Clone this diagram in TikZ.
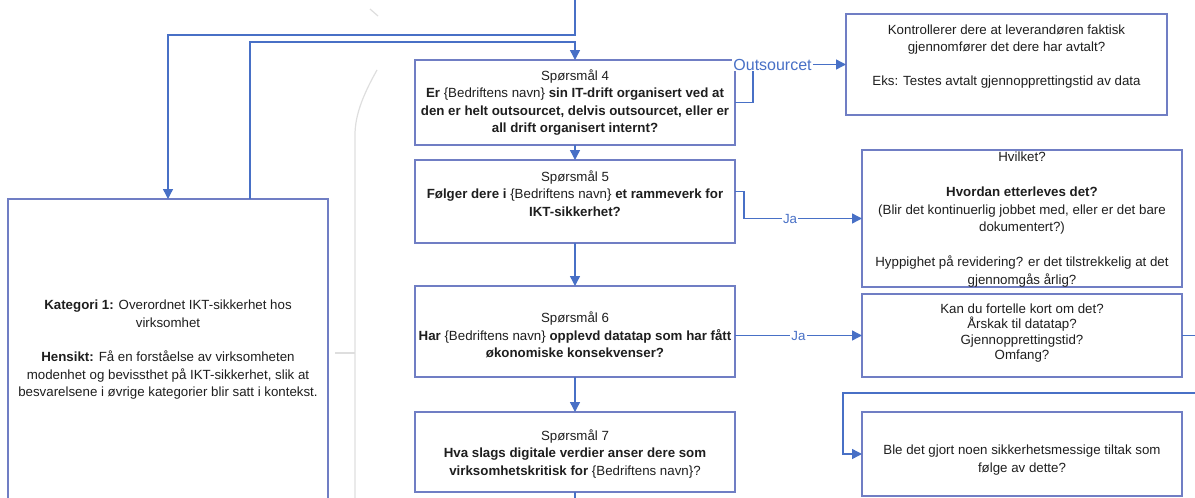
\documentclass[tikz,border=0pt]{standalone}
\usepackage{fontspec}
\setmainfont{Liberation Sans}
\usetikzlibrary{arrows.meta,calc}
\definecolor{boxline}{RGB}{112,126,196}
\definecolor{flow}{RGB}{72,112,198}
\definecolor{ink}{RGB}{30,30,30}
\definecolor{faint}{RGB}{222,222,222}
\tikzset{
  box/.style={draw=boxline, line width=1.1pt, inner sep=0pt, outer sep=0pt, minimum width=320pt},
  txt/.style={align=center, text=ink, font=\fontsize{13.3}{17.5}\selectfont, inner sep=0pt},
  conn/.style={draw=flow, line width=1.4pt},
  tip/.style={-{Triangle[length=10pt,width=10pt]}},
  biglbl/.style={fill=white, text=flow, inner sep=1pt, font=\fontsize{16}{18}\selectfont},
  lbl/.style={fill=white, text=flow, inner sep=1pt, font=\fontsize{13.3}{16}\selectfont},
  faintline/.style={draw=faint, line width=1.2pt},
}
\begin{document}
\begin{tikzpicture}[x=1pt,y=-1pt]
\useasboundingbox (0,0) rectangle (1195,498);
\clip (0,0) rectangle (1195,498);

% faint guide strokes in the background
\draw[faintline] (370,9) -- (378,16);
\draw[faintline] (377,70) .. controls (363,95) and (355,115) .. (355,135) -- (355,505);
\draw[faintline] (335,353) -- (355,353);

% boxes
\node[box, minimum height=303pt] (kat) at (168,350.5) {};
\node[box, minimum height=85pt] (q4) at (575,102.5) {};
\node[box, minimum height=83pt] (q5) at (575,201.5) {};
\node[box, minimum height=91pt] (q6) at (575,331.5) {};
\node[box, minimum height=80pt] (q7) at (575,452) {};
\node[box, minimum width=321pt, minimum height=101pt] (b1) at (1006.5,64.5) {};
\node[box, minimum height=137pt] (b2) at (1022,218.5) {};
\node[box, minimum height=83pt] (b3) at (1022,335.5) {};
\node[box, minimum height=84pt] (b4) at (1022,454) {};

% texts
\node[txt] (katt) at (168,350) {\textbf{Kategori 1:} Overordnet IKT-sikkerhet hos\\virksomhet\\[17pt]\textbf{Hensikt:} Få en forståelse av virksomheten\\modenhet og bevissthet på IKT-sikkerhet, slik at\\besvarelsene i øvrige kategorier blir satt i kontekst.};
\node[txt] (q4t) at (575,102.5) {Spørsmål 4\\\textbf{Er} \{Bedriftens navn\} \textbf{sin IT-drift organisert ved at}\\\textbf{den er helt outsourcet, delvis outsourcet, eller er}\\\textbf{all drift organisert internt?}};
\node[txt] (q5t) at (575,193.5) {Spørsmål 5\\\textbf{Følger dere i} \{Bedriftens navn\} \textbf{et rammeverk for}\\\textbf{IKT-sikkerhet?}};
\node[txt] (q6t) at (575,335) {Spørsmål 6\\\textbf{Har} \{Bedriftens navn\} \textbf{opplevd datatap som har fått}\\\textbf{økonomiske konsekvenser?}};
\node[txt] (q7t) at (575,454) {Spørsmål 7\\\textbf{Hva slags digitale verdier anser dere som}\\\textbf{virksomhetskritisk for} \{Bedriftens navn\}?};
\node[txt, font=\fontsize{13.3}{17}\selectfont] (b1t) at (1006.5,57) {Kontrollerer dere at leverandøren faktisk\\gjennomfører det dere har avtalt?\\[17pt]Eks: Testes avtalt gjennopprettingstid av data};
\node[txt] (b2t) at (1022,219.5) {Hvilket?\\[17.5pt]\textbf{Hvordan etterleves det?}\\(Blir det kontinuerlig jobbet med, eller er det bare\\dokumentert?)\\[17.5pt]Hyppighet på revidering? er det tilstrekkelig at det\\gjennomgås årlig?};
\node[txt, font=\fontsize{13.3}{15.5}\selectfont] (b3t) at (1022,333) {Kan du fortelle kort om det?\\Årskak til datatap?\\Gjennopprettingstid?\\Omfang?};
\node[txt] (b4t) at (1022,460) {Ble det gjort noen sikkerhetsmessige tiltak som\\følge av dette?};

% connectors
\coordinate (topin) at (575,-5);
\coordinate (botout) at (575,505);
\draw[conn,tip] (topin) -- ++(0,40) -| (kat.north);
\draw[conn,tip] ($(kat.north)+(82,0)$) -- ++(0,-157) -| (q4.north);
\draw[conn,tip] (q4.south) -- (q5.north);
\draw[conn,tip] (q5.south) -- (q6.north);
\draw[conn,tip] (q6.south) -- (q7.north);
\draw[conn] (q7.south) -- (botout);
\draw[conn,tip] (q4.east) -- ++(18,0) |- node[biglbl, pos=0.605] (lout) {Outsourcet} (b1.west);
\draw[conn,tip] ($(q5.east)+(0,-10)$) -- ++(9,0) |- node[lbl, pos=0.695] (lja1) {Ja} (b2.west);
\draw[conn,tip] (q6.east |- b3.west) -- node[lbl, pos=0.5] (lja2) {Ja} (b3.west);
\draw[conn,tip] (b3.east) -- ++(23,0) |- ($(b4.west)+(-19,-61)$) |- (b4.west);
\end{tikzpicture}
\end{document}
